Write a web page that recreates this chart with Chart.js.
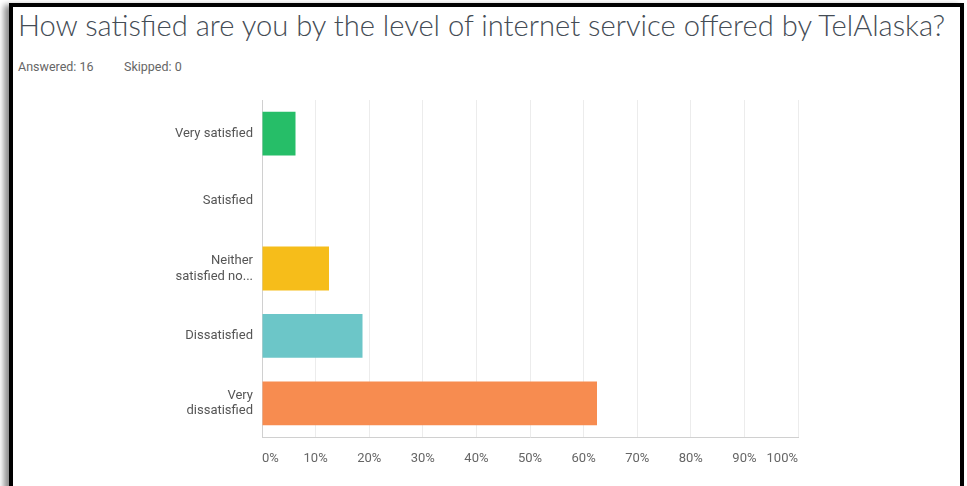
<!DOCTYPE html>
<html>
<head>
<meta charset="utf-8">
<script src="https://cdn.jsdelivr.net/npm/chart.js@4/dist/chart.umd.min.js"></script>
<style>
  html, body { margin:0; padding:0; background:#fff; width:967px; height:486px; overflow:hidden; }
  #frame { position:absolute; left:9px; top:3px; width:947px; height:500px; border:4px solid #000; border-bottom:none;
           box-shadow:-5px 2px 6px rgba(0,0,0,0.45); background:#fff; }
  #title { position:absolute; left:18px; top:5px; font-family:Lato, Roboto, sans-serif; font-weight:300;
           font-size:30px; color:#444c55; white-space:nowrap; transform-origin:0 0; line-height:38px; }
  #meta { position:absolute; left:18px; top:59px; font-family:Roboto, sans-serif; font-size:12.5px; color:#666; white-space:nowrap; }
  #meta span { position:absolute; top:0; }
  #wrap { position:absolute; left:0; top:0; width:967px; height:486px; }
</style>
</head>
<body>
<div id="frame"></div>
<div id="title">How satisfied are you by the level of internet service offered by TelAlaska?</div>
<div id="meta"><span style="left:0">Answered: 16</span><span style="left:106px">Skipped: 0</span></div>
<div id="wrap"><canvas id="c" width="967" height="486"></canvas></div>
<script>
const categories = [["Very satisfied"], ["Satisfied"], ["Neither", "satisfied no..."], ["Dissatisfied"], ["Very", "dissatisfied"]];
const percentages = [6.25, 0, 12.5, 18.75, 62.5];
const xTicks = [0, 10, 20, 30, 40, 50, 60, 70, 80, 90, 100];

// fit title width
const t = document.getElementById('title');
const w = t.getBoundingClientRect().width;
t.style.transform = 'scaleX(' + (927 / w) + ')';

new Chart(document.getElementById('c'), {
  type: 'bar',
  data: {
    labels: categories,
    datasets: [{
      data: percentages,
      backgroundColor: ["#26be68", "#ffffff", "#f6bd1a", "#6cc6c8", "#f78c50"],
      borderWidth: 0,
      barPercentage: 0.65,
      categoryPercentage: 1.0
    }]
  },
  options: {
    indexAxis: 'y',
    responsive: false,
    animation: false,
    events: [],
    layout: { padding: { left: 0, right: 169, top: 100, bottom: 0 } },
    plugins: { legend: { display: false }, tooltip: { enabled: false }, title: { display: false } },
    scales: {
      x: {
        min: 0, max: 100,
        afterFit: s => { s.height = 49; },
        afterBuildTicks: s => { s.ticks = xTicks.map(v => ({ value: v })); },
        grid: { color: '#ececec', drawTicks: false, lineWidth: 1 },
        border: { color: '#d0d0d0' },
        ticks: { align: 'inner', padding: 14, color: '#666', font: { family: 'Roboto, sans-serif', size: 13 },
                 callback: v => v + '%' , maxRotation: 0, autoSkip: false }
      },
      y: {
        afterFit: s => { s.width = 262; },
        grid: { display: false, drawTicks: false },
        border: { color: '#d0d0d0' },
        ticks: { padding: 9, color: '#555', font: { family: 'Roboto, sans-serif', size: 13 }, lineHeight: 1.2 }
      }
    }
  }
});
</script>
</body>
</html>
